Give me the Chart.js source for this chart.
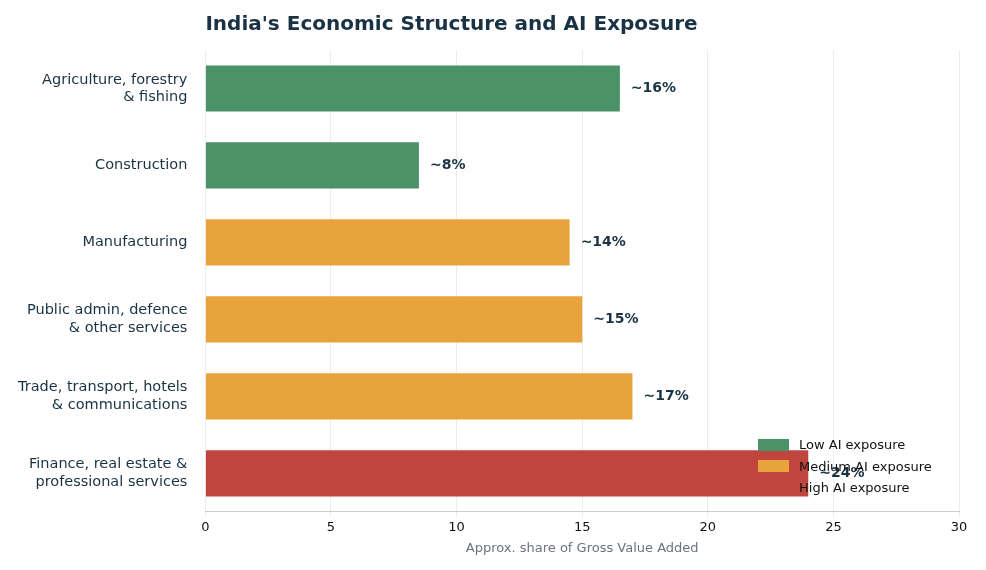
<!DOCTYPE html>
<html>
<head>
<meta charset="utf-8">
<script src="https://cdn.jsdelivr.net/npm/chart.js@4"></script>
<style>
  html, body { margin: 0; padding: 0; background: #fff; }
  #wrap { position: relative; width: 986px; height: 570px; }
  #legend { position: absolute; left: 758px; top: 434px; font: 13px "DejaVu Sans", sans-serif; color: #111; }
  #legend div { height: 21.5px; display: flex; align-items: center; }
  #legend span { display: inline-block; width: 31px; height: 12px; margin-right: 10px; }
</style>
</head>
<body>
<div id="wrap">
  <canvas id="c" width="986" height="570"></canvas>
  <div id="legend">
    <div><span style="background:#4a9369"></span>Low AI exposure</div>
    <div><span style="background:#e8a33c"></span>Medium AI exposure</div>
    <div><span style="background:#c0453d"></span>High AI exposure</div>
  </div>
</div>
<script>
const sectors = [
    ['Agriculture, forestry', '& fishing'],
    'Construction',
    'Manufacturing',
    ['Public admin, defence', '& other services'],
    ['Trade, transport, hotels', '& communications'],
    ['Finance, real estate &', 'professional services']
];
const shares = [16.5, 8.5, 14.5, 15, 17, 24];
const shareLabels = ['~16%', '~8%', '~14%', '~15%', '~17%', '~24%'];
const exposure = ['low', 'low', 'medium', 'medium', 'medium', 'high'];
const xTicks = [0, 5, 10, 15, 20, 25, 30];

const COLORS = { low: '#4a9369', medium: '#e8a33c', high: '#c0453d' };
const FONT = '"DejaVu Sans", sans-serif';

const titlePlugin = {
    id: 'leftTitle',
    afterDraw: function (chart) {
        const ctx = chart.ctx;
        ctx.save();
        ctx.fillStyle = '#1a3344';
        ctx.font = 'bold 20px ' + FONT;
        ctx.textBaseline = 'middle';
        ctx.fillText("India's Economic Structure and AI Exposure", chart.chartArea.left, 25);
        ctx.restore();
    }
};

const valueLabels = {
    id: 'valueLabels',
    afterDatasetsDraw: function (chart) {
        const ctx = chart.ctx;
        const meta = chart.getDatasetMeta(0);
        ctx.save();
        ctx.fillStyle = '#1a3344';
        ctx.font = 'bold 14px ' + FONT;
        ctx.textBaseline = 'middle';
        meta.data.forEach(function (bar, i) {
            ctx.fillText(shareLabels[i], bar.x + 11, bar.y);
        });
        ctx.restore();
    }
};

new Chart(document.getElementById('c'), {
    type: 'bar',
    data: {
        labels: sectors,
        datasets: [{
            data: shares,
            backgroundColor: exposure.map(function (e) { return COLORS[e]; }),
            barPercentage: 0.6,
            categoryPercentage: 1
        }]
    },
    options: {
        indexAxis: 'y',
        responsive: false,
        animation: false,
        layout: { padding: { top: 50, right: 27, left: 8, bottom: 10 } },
        plugins: { legend: { display: false }, tooltip: { enabled: false } },
        scales: {
            x: {
                min: 0, max: 30,
                afterBuildTicks: function (axis) { axis.ticks = xTicks.map(function (v) { return { value: v }; }); },
                grid: { color: '#ececec', drawTicks: true, tickLength: 5 },
                border: { color: '#cccccc' },
                ticks: { color: '#111', font: { family: FONT, size: 13 } },
                title: { display: true, text: 'Approx. share of Gross Value Added', color: '#6b7280', font: { family: FONT, size: 13 }, padding: { top: 2 } }
            },
            y: {
                grid: { display: false },
                border: { display: false },
                ticks: { color: '#1a3344', font: { family: FONT, size: 14.5 }, padding: 10 }
            }
        }
    },
    plugins: [titlePlugin, valueLabels]
});
</script>
</body>
</html>
